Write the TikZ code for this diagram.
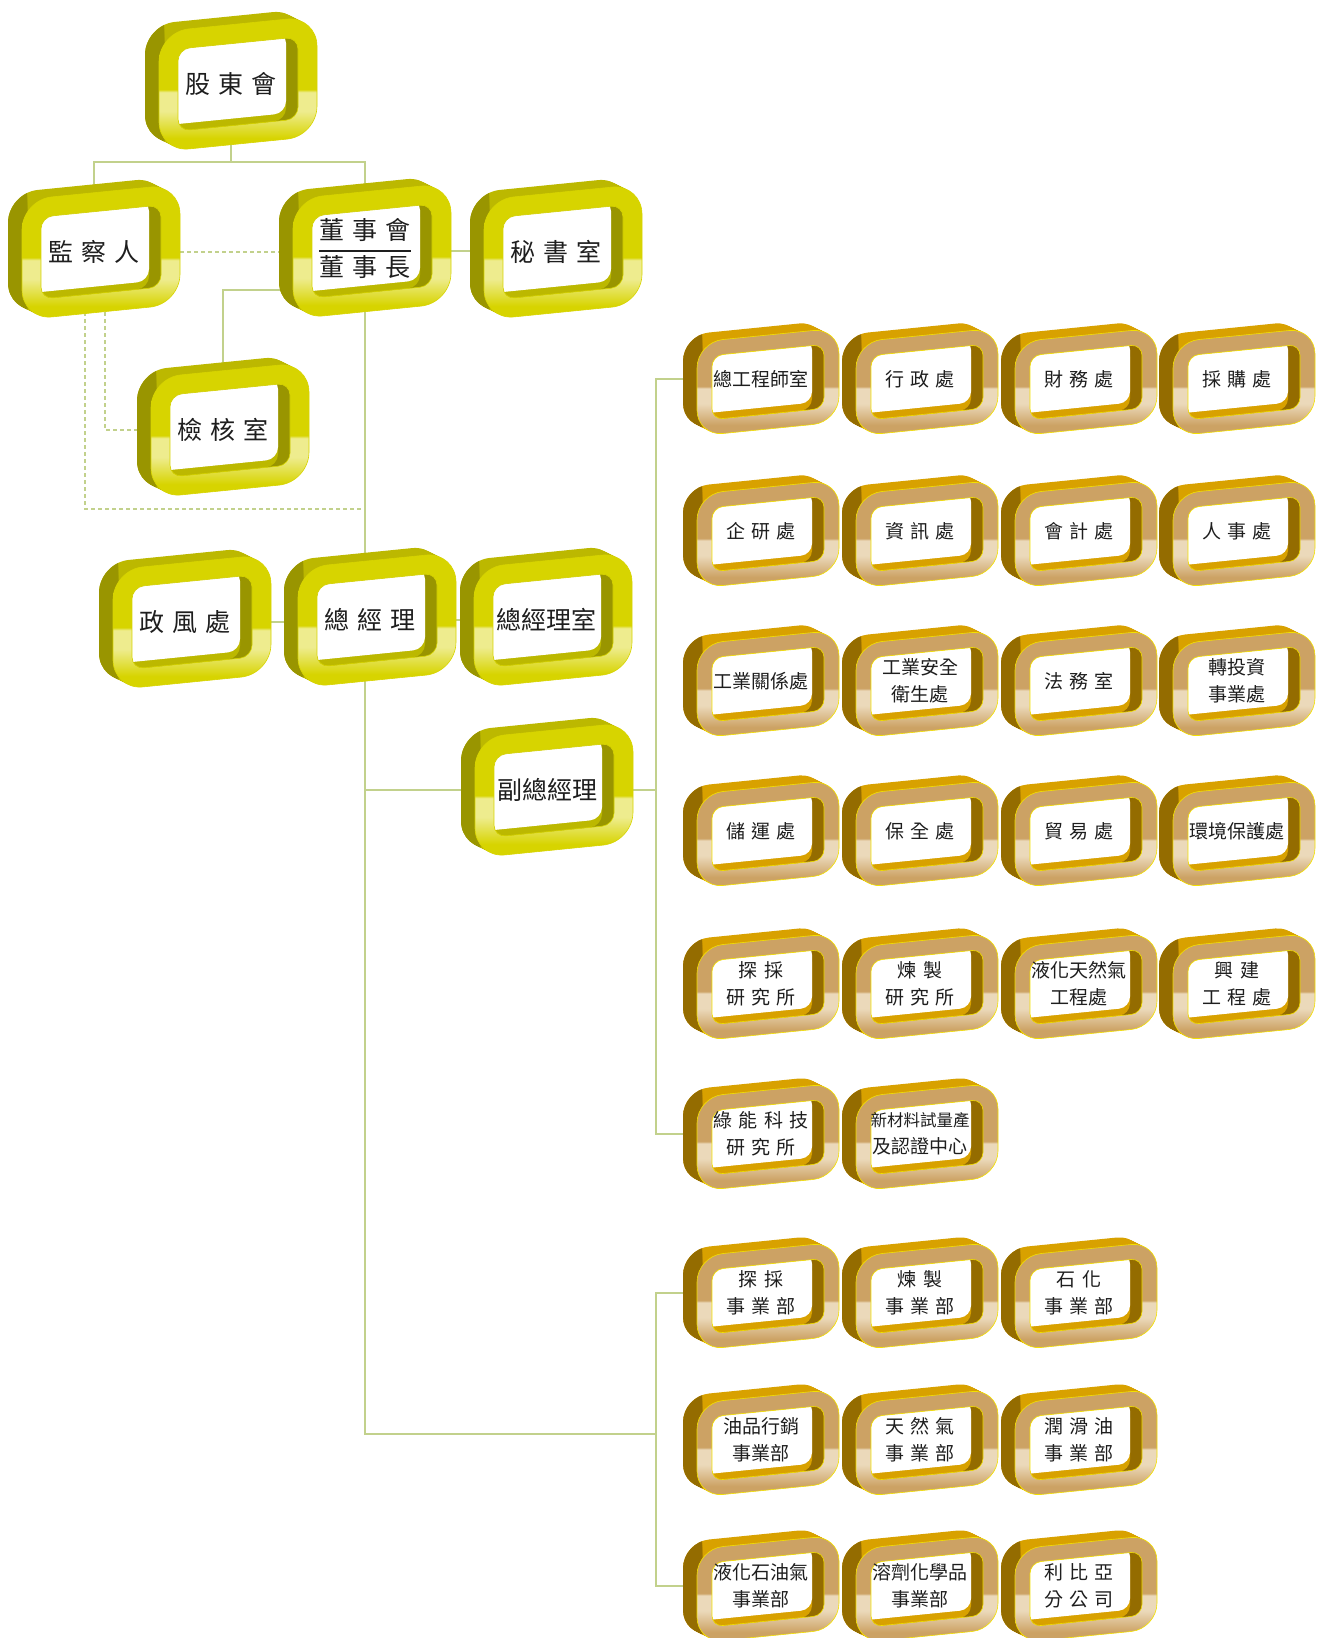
\documentclass[tikz,border=0pt]{standalone}
\usepackage{fontspec}
\newfontfamily\cjk{Noto Sans CJK TC}
\newfontfamily\cjkw[WordSpace=1.5]{Noto Sans CJK TC}

\definecolor{ymain}{HTML}{D7D400}
\definecolor{ylight}{HTML}{EEEC8E}
\definecolor{ytop}{HTML}{BCB800}
\definecolor{yside}{HTML}{999500}
\definecolor{gmain}{HTML}{CCA264}
\definecolor{glight}{HTML}{EBD9BA}
\definecolor{gtop}{HTML}{D8A100}
\definecolor{gside}{HTML}{946C00}
\definecolor{gedge}{HTML}{F3E000}
\definecolor{linkc}{HTML}{C2D18C}
\definecolor{txt}{HTML}{1E1E1E}

\pgfdeclareverticalshading{yfront}{100bp}{color(0bp)=(ymain); color(25bp)=(ymain); color(30bp)=(ymain); color(40bp)=(ylight); color(47bp)=(ylight); color(48bp)=(ymain); color(100bp)=(ymain)}
\pgfdeclareverticalshading{gfront}{100bp}{color(0bp)=(gmain); color(25bp)=(gmain); color(30bp)=(gmain); color(40bp)=(glight); color(47bp)=(glight); color(48bp)=(gmain); color(100bp)=(gmain)}

\pgfdeclarelayer{bg}
\pgfsetlayers{bg,main}

\tikzset{
  ydims/.code={\def\bw{158}\def\bh{120}\def\br{30}\def\bf{19}\def\bir{12}\def\boff{0}%
    \def\bshade{yfront}\colorlet{btop}{ytop}\colorlet{bside}{yside}\colorlet{bedge}{ymain}},
  gdims/.code={\def\bw{142}\def\bh{94}\def\br{26}\def\bf{15}\def\bir{11}\def\boff{3}%
    \def\bshade{gfront}\colorlet{btop}{gtop}\colorlet{bside}{gside}\colorlet{bedge}{gedge}},
  ynode/.style={minimum width=158pt, minimum height=120pt, inner sep=0pt, align=center,
    text=txt, font=\cjkw\fontsize{25}{30}\selectfont},
  gnode/.style={minimum width=142pt, minimum height=94pt, inner sep=0pt, align=center,
    text=txt, font=\cjk\fontsize{19}{27}\selectfont},
  ybox/.style={ydims, every node/.style=ynode},
  gbox/.style={gdims, every node/.style=gnode},
  link/.style={draw=linkc, line width=1.5pt},
  linkdash/.style={link, dash pattern=on 4pt off 3pt}
}

% 3D frame box: style, name, x, y, text
\newcommand\orgbox[5]{%
\begin{scope}[#1]
 \begin{scope}[shift={(#3+7,#4+\boff)}, yslant=0.1]
  % top and left faces
  \foreach \dep in {14,12,...,2}
   \fill[btop, rounded corners=\br pt] (-\bw/2-\dep,-\bh/2-0.6*\dep) rectangle (\bw/2-\dep,\bh/2-0.6*\dep);
  \begin{scope}
   \clip (-\bw/2-20,-\bh/2-20) rectangle (-\bw/2+5,\bh/2+5);
   \foreach \dep in {14,12,...,2}
    \fill[bside, rounded corners=\br pt] (-\bw/2-\dep,-\bh/2-0.6*\dep) rectangle (\bw/2-\dep,\bh/2-0.6*\dep);
  \end{scope}
  % front face
  \shade[shading=\bshade, rounded corners=\br pt] (-\bw/2,-\bh/2) rectangle (\bw/2,\bh/2);
  \draw[bedge, line width=0.6pt, rounded corners=\br pt] (-\bw/2,-\bh/2) rectangle (\bw/2,\bh/2);
  % opening with inner walls
  \begin{scope}
   \clip[rounded corners=\bir pt] (-\bw/2+\bf,-\bh/2+\bf) rectangle (\bw/2-\bf,\bh/2-\bf);
   \fill[bside] (-\bw/2,-\bh/2) rectangle (\bw/2,\bh/2);
   \fill[btop, rounded corners=\bir pt] (-\bw/2+\bf-12,-\bh/2+\bf) rectangle (\bw/2-\bf-12,\bh/2-\bf);
   \fill[white, rounded corners=\bir pt] (-\bw/2+\bf-12,-\bh/2+\bf-7) rectangle (\bw/2-\bf-12,\bh/2-\bf-7);
  \end{scope}
  \draw[bedge, line width=0.6pt, rounded corners=\bir pt] (-\bw/2+\bf,-\bh/2+\bf) rectangle (\bw/2-\bf,\bh/2-\bf);
 \end{scope}
 \node (#2) at (#3,#4) {#5};
\end{scope}}

\begin{document}
\begin{tikzpicture}[x=1pt, y=-1pt]
\useasboundingbox (0,0) rectangle (1324,1638);

% board level
\orgbox{ybox}{gudong}{231}{84}{股 東 會}
\orgbox{ybox}{jiancha}{94}{252}{監 察 人}
\orgbox{ybox}{dongshi}{365}{251}{\renewcommand\arraystretch{1.2}\setlength\arrayrulewidth{1.2pt}%
  \begin{tabular}{@{}c@{}}董 事 會\\\hline 董 事 長\end{tabular}}
\orgbox{ybox}{mishu}{556}{252}{秘 書 室}
\orgbox{ybox}{jianhe}{223}{430}{檢 核 室}
\orgbox{ybox}{zhengfeng}{185}{622}{政 風 處}
\orgbox{ybox}{zongjingli}{370}{620}{總 經 理}
\orgbox{ybox}{zjlshi}{546}{620}{總經理室}
\orgbox{ybox}{fuzong}{547}{790}{副總經理}

% staff departments
\orgbox{gbox}{zonggong}{761}{379}{總工程師室}
\orgbox{gbox}{xingzheng}{920}{379}{行 政 處}
\orgbox{gbox}{caiwu}{1079}{379}{財 務 處}
\orgbox{gbox}{caigou}{1237}{379}{採 購 處}
\orgbox{gbox}{qiyan}{761}{531}{企 研 處}
\orgbox{gbox}{zixun}{920}{531}{資 訊 處}
\orgbox{gbox}{kuaiji}{1079}{531}{會 計 處}
\orgbox{gbox}{renshi}{1237}{531}{人 事 處}
\orgbox{gbox}{gongguan}{761}{681}{工業關係處}
\orgbox{gbox}{gongan}{920}{681}{工業安全\\衛生處}
\orgbox{gbox}{fawu}{1079}{681}{法 務 室}
\orgbox{gbox}{zhuantou}{1237}{681}{轉投資\\事業處}
\orgbox{gbox}{chuyun}{761}{831}{儲 運 處}
\orgbox{gbox}{baoquan}{920}{831}{保 全 處}
\orgbox{gbox}{maoyi}{1079}{831}{貿 易 處}
\orgbox{gbox}{huanbao}{1237}{831}{環境保護處}
\orgbox{gbox}{tancaiyan}{761}{984}{探 採\\研 究 所}
\orgbox{gbox}{lianzhiyan}{920}{984}{煉 製\\研 究 所}
\orgbox{gbox}{yehua}{1079}{984}{液化天然氣\\工程處}
\orgbox{gbox}{xingjian}{1237}{984}{興 建\\工 程 處}
\orgbox{gbox}{lvneng}{761}{1134}{綠 能 科 技\\研 究 所}
\orgbox{gbox}{xincai}{920}{1134}{\fontsize{16.5}{25}\selectfont 新材料試量產\\及認證中心}

% business divisions
\orgbox{gbox}{tancaibu}{761}{1293}{探 採\\事 業 部}
\orgbox{gbox}{lianzhibu}{920}{1293}{煉 製\\事 業 部}
\orgbox{gbox}{shihua}{1079}{1293}{石 化\\事 業 部}
\orgbox{gbox}{youpin}{761}{1440}{油品行銷\\事業部}
\orgbox{gbox}{tianranqi}{920}{1440}{天 然 氣\\事 業 部}
\orgbox{gbox}{runhua}{1079}{1440}{潤 滑 油\\事 業 部}
\orgbox{gbox}{yehuashi}{761}{1586}{液化石油氣\\事業部}
\orgbox{gbox}{rongji}{920}{1586}{溶劑化學品\\事業部}
\orgbox{gbox}{libiya}{1079}{1586}{利 比 亞\\分 公 司}

\coordinate (topbus) at (0,162);
\coordinate (dashbot) at (0,509);
\coordinate (busx) at (656,0);
\coordinate (bus2) at (656,1434);

% connectors, behind the boxes
\begin{pgfonlayer}{bg}
\draw[link] (gudong.south) -- (gudong.south |- topbus);
\draw[link] (jiancha.north) -- (jiancha.north |- topbus) -- (dongshi.north |- topbus) -- (dongshi.north);
\draw[linkdash] (jiancha.east) -- (jiancha.east -| dongshi.west);
\draw[link] (dongshi.east) -- (dongshi.east -| mishu.west);
\draw[link] (dongshi.west) ++(0,39) -| (jianhe.north);
\draw[linkdash] ([xshift=-9pt]jiancha.south) |- (dongshi.south |- dashbot);
\draw[linkdash] ([xshift=11pt]jiancha.south) |- (jianhe.west);
\draw[link] (dongshi.south) |- (bus2);
\draw[link] (zhengfeng.east) -- (zhengfeng.east -| zongjingli.west);
\draw[link] (zongjingli.east) -- (zongjingli.east -| zjlshi.west);
\draw[link] (fuzong.west) -- (fuzong.west -| dongshi.south);
\draw[link] (fuzong.east) -- (fuzong.east -| busx);
\draw[link] (zonggong.west) -- (zonggong.west -| busx) -- (lvneng.west -| busx) -- (lvneng.west);
\draw[link] (tancaibu.west) -- (tancaibu.west -| busx) -- (yehuashi.west -| busx) -- (yehuashi.west);
\end{pgfonlayer}
\end{tikzpicture}
\end{document}
